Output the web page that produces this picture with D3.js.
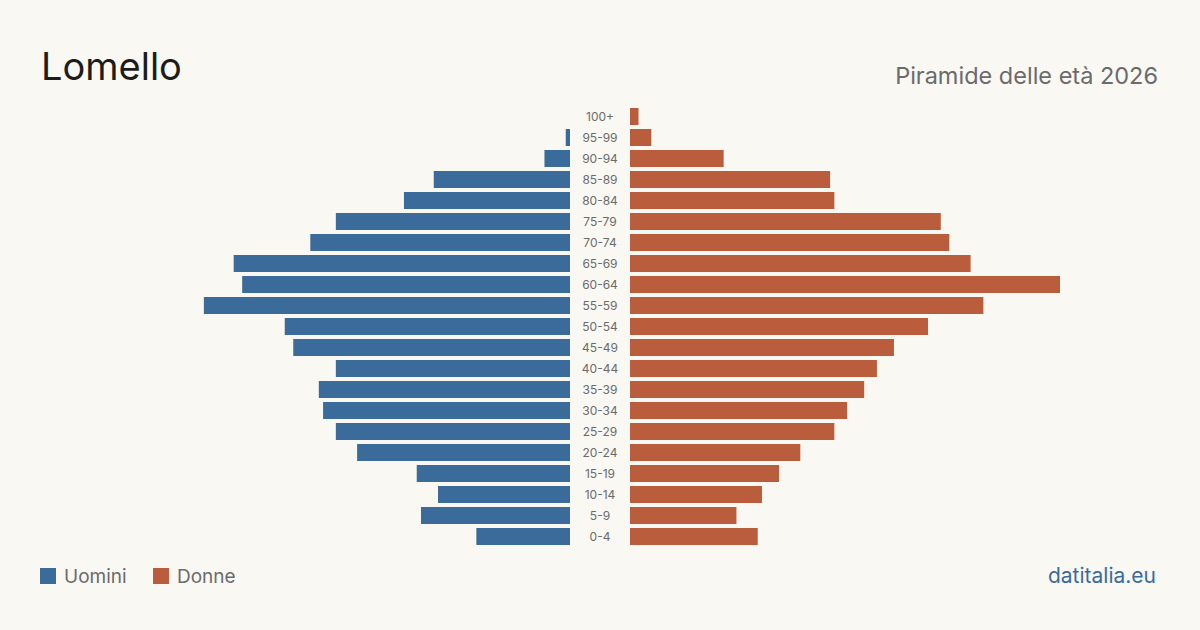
<!DOCTYPE html>
<html>
<head>
<meta charset="utf-8">
<script src="https://cdn.jsdelivr.net/npm/d3@7"></script>
<style>
  html, body { margin: 0; padding: 0; background: #f9f8f3; }
  svg { display: block; font-family: Inter, "Noto Sans", sans-serif; }
</style>
</head>
<body>
<div id="chart"></div>
<script>
var w = 1200,
	h = 630,
	center_x = 600,
	gap = 30,
	bar_width = 430,
	top_y = 108,
	row_step = 21,
	bar_height = 17;

var ages = ['100+','95-99','90-94','85-89','80-84','75-79','70-74','65-69','60-64','55-59',
	'50-54','45-49','40-44','35-39','30-34','25-29','20-24','15-19','10-14','5-9','0-4'];
var males =   [0, 1, 6, 32, 39, 55, 61, 79, 77, 86, 67, 65, 55, 59, 58, 55, 50, 36, 31, 35, 22];
var females = [2, 5, 22, 47, 48, 73, 75, 80, 101, 83, 70, 62, 58, 55, 51, 48, 40, 35, 31, 25, 30];

var blue = '#3b6b9b',
	orange = '#ba5d3c';

var svg = d3.select('#chart').append('svg')
	.attr('width', w)
	.attr('height', h)
	.attr('viewBox', '0 0 ' + w + ' ' + h);

svg.append('rect').attr('width', w).attr('height', h).attr('fill', '#f9f8f3');

var x = d3.scaleLinear()
	.domain([0, d3.max(males.concat(females))])
	.range([0, bar_width]);

var y = d3.scaleBand()
	.domain(ages)
	.range([top_y, top_y + row_step * (ages.length - 1) + bar_height])
	.paddingInner((row_step - bar_height) / row_step)
	.paddingOuter(0);

var rows = svg.selectAll('.row')
	.data(ages)
	.enter().append('g')
		.attr('class', 'row');

rows.append('rect')
	.attr('x', function(d, i){ return center_x - gap - x(males[i]); })
	.attr('y', function(d){ return y(d); })
	.attr('width', function(d, i){ return x(males[i]); })
	.attr('height', y.bandwidth())
	.attr('fill', blue);

rows.append('rect')
	.attr('x', center_x + gap)
	.attr('y', function(d){ return y(d); })
	.attr('width', function(d, i){ return x(females[i]); })
	.attr('height', y.bandwidth())
	.attr('fill', orange);

rows.append('text')
	.attr('x', center_x)
	.attr('y', function(d){ return y(d) + y.bandwidth() / 2; })
	.attr('dy', '0.35em')
	.attr('text-anchor', 'middle')
	.attr('font-size', 12)
	.attr('fill', '#6b6b6b')
	.text(function(d){ return d; });

// title
svg.append('text')
	.attr('x', 41)
	.attr('y', 80)
	.attr('font-size', 38)
	.attr('fill', '#1c1c1c')
	.text('Lomello');

svg.append('text')
	.attr('x', 1158)
	.attr('y', 84)
	.attr('text-anchor', 'end')
	.attr('font-size', 23.5)
	.attr('fill', '#6b6b6b')
	.text('Piramide delle età 2026');

// legend
var legend = [{label: 'Uomini', color: blue, x: 40}, {label: 'Donne', color: orange, x: 153}];
var lg = svg.selectAll('.legend')
	.data(legend)
	.enter().append('g')
		.attr('class', 'legend')
		.attr('transform', function(d){ return 'translate(' + d.x + ',568)'; });
lg.append('rect')
	.attr('width', 16)
	.attr('height', 16)
	.attr('fill', function(d){ return d.color; });
lg.append('text')
	.attr('x', 24)
	.attr('y', 8)
	.attr('dy', '0.35em')
	.attr('font-size', 19)
	.attr('fill', '#6b6b6b')
	.text(function(d){ return d.label; });

svg.append('text')
	.attr('x', 1156)
	.attr('y', 583)
	.attr('text-anchor', 'end')
	.attr('font-size', 21)
	.attr('fill', blue)
	.text('datitalia.eu');
</script>
</body>
</html>
